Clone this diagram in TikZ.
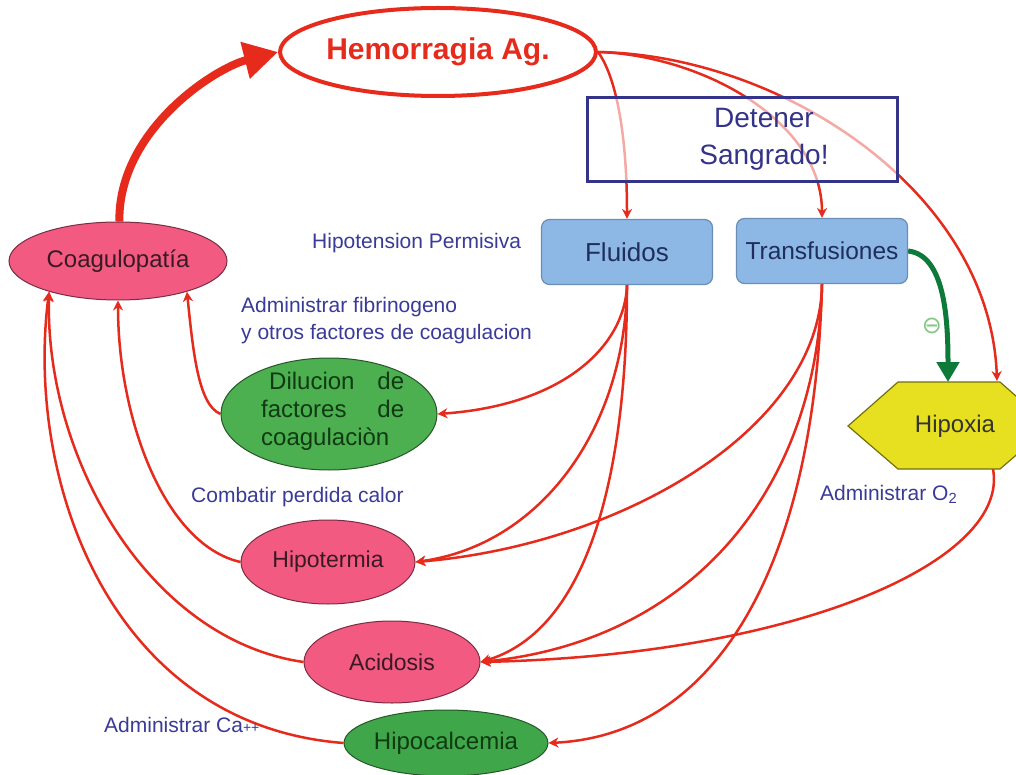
\documentclass[tikz,border=0pt]{standalone}
\usepackage{fontspec}
\setmainfont{Liberation Sans}
\newfontfamily\dejavu{DejaVu Sans}
\usetikzlibrary{shapes.geometric,arrows.meta,backgrounds}
\definecolor{rd}{HTML}{E62A1C}
\definecolor{pk}{HTML}{F25A82}
\definecolor{gr}{HTML}{4CAF50}
\definecolor{gr2}{HTML}{3FA64A}
\definecolor{bl}{HTML}{8DB8E6}
\definecolor{blb}{HTML}{6A8DB6}
\definecolor{yl}{HTML}{E6E020}
\definecolor{nv}{HTML}{3A3A98}
\definecolor{dnv}{HTML}{1F2E5C}
\definecolor{dg}{HTML}{0E7A3A}
\definecolor{bx}{HTML}{33338A}
\definecolor{pktext}{HTML}{3A1A22}
\definecolor{grtext}{HTML}{0F3A12}
\begin{document}
\begin{tikzpicture}[x=1pt,y=-1pt,
 ell/.style={ellipse, draw=black!55, line width=1pt, inner sep=0pt},
 pinkell/.style={ell, draw=black!50!pk, fill=pk, text=pktext},
 greenell/.style={ell, draw=black!50!gr, fill=gr, text=grtext},
 bluebox/.style={rectangle, rounded corners=8pt, draw=blb, line width=1.2pt, fill=bl, text=dnv, minimum width=171pt, minimum height=65pt, inner sep=0pt},
 lbl/.style={text=nv, inner sep=0pt, font=\fontsize{21}{27}\selectfont},
 rarrow/.style={draw=rd, line width=2.5pt, -{Stealth[length=10pt,width=10pt]}},
]
\useasboundingbox (0,0) rectangle (1016,775);

% nodes
\node[ellipse, draw=rd, line width=4pt, minimum width=302pt, minimum height=88pt, inner sep=0pt, text=rd, font=\bfseries\fontsize{30}{36}\selectfont] (hem) at (438,52) {Hemorragia Ag.};

\node[rectangle, draw=bx, line width=3pt, fill=white, fill opacity=0.6, minimum width=310pt, minimum height=84pt, inner sep=0pt] (det) at (742,140) {};
\node[text=bx, align=center, inner sep=0pt, font=\fontsize{28}{37}\selectfont] (dett) at (764,139) {Detener\\Sangrado!};

\node[bluebox, font=\fontsize{26}{30}\selectfont] (fl) at (627,252) {Fluidos};
\node[bluebox, font=\fontsize{24.5}{30}\selectfont] (tr) at (822,251) {Transfusiones};

\node[pinkell, minimum width=218pt, minimum height=78pt, font=\fontsize{24}{28}\selectfont] (co) at (118,261) {Coagulopatía};
\node[greenell, minimum width=216pt, minimum height=112pt] (dil) at (329,414) {};
\node[text=grtext, align=left, anchor=west, inner sep=0pt, font=\fontsize{24}{28}\selectfont] (dilt) at (261,411) {\makebox[143pt]{\hspace*{8pt}Dilucion\hfill de}\\\makebox[143pt]{factores\hfill de}\\coagulaciòn};
\node[pinkell, minimum width=174pt, minimum height=84pt, font=\fontsize{23}{28}\selectfont] (hipt) at (328,562) {Hipotermia};
\node[pinkell, minimum width=176pt, minimum height=82pt, font=\fontsize{23}{28}\selectfont] (aci) at (392,662) {Acidosis};
\node[greenell, fill=gr2, minimum width=204pt, minimum height=66pt, font=\fontsize{24}{28}\selectfont] (hca) at (446,743) {Hipocalcemia};

% Hipoxia shape
\begin{scope}
\clip (0,0) rectangle (1016,775);
\filldraw[fill=yl, draw=black!50!yl, line width=1.2pt] (848,426) -- (898,382) -- (1000,382) -- (1050,426) -- (1000,469) -- (898,469) -- cycle;
\end{scope}
\node[text=black!80, inner sep=0pt, font=\fontsize{24}{28}\selectfont] (hx) at (955,426) {Hipoxia};
\coordinate (hxtop) at (948,382);
\coordinate (hxtr) at (997,381);
\coordinate (hxbr) at (993,469);

% labels
\node[lbl, anchor=west] (lhp) at (312,243) {Hipotension Permisiva};
\node[lbl, anchor=west, align=left] (lfib) at (241,321) {Administrar fibrinogeno\\y otros factores de coagulacion};
\node[lbl, anchor=west] (lcal) at (191,497) {Combatir perdida calor};
\node[lbl, anchor=west] (lo2) at (820,494) {Administrar O\textsubscript{2}};
\node[lbl, anchor=west] (lca) at (104,725) {Administrar Ca{\fontsize{14}{14}\selectfont ++}};
\node[text=gr!70!white, inner sep=0pt, font=\dejavu\fontsize{24}{24}\selectfont] (minus) at (932,326) {⊖};

% connectors
\begin{pgfonlayer}{background}
\fill[white] (0,0) rectangle (1016,775);
\draw[draw=rd, line width=8pt, -{Triangle[length=34pt,width=36pt]}] (co.88) .. controls (118,130) and (215,68) .. (hem.west);

\draw[rarrow] (hem.east) .. controls (615,75) and (627,130) .. (fl.north);
\draw[rarrow] (hem.east) .. controls (700,55) and (822,120) .. (tr.north);
\draw[rarrow] (hem.east) .. controls (780,55) and (990,190) .. (hxtr);

\draw[rarrow] (fl.south) .. controls (625,345) and (565,405) .. (dil.east);
\draw[rarrow] (fl.south) .. controls (625,430) and (540,545) .. (hipt.east);
\draw[rarrow] (fl.south) .. controls (627,470) and (590,630) .. (aci.east);

\draw[rarrow] (tr.south) .. controls (820,430) and (620,545) .. (hipt.east);
\draw[rarrow] (tr.south) .. controls (818,480) and (700,640) .. (aci.east);
\draw[rarrow] (tr.south) .. controls (815,560) and (720,735) .. (hca.east);

\draw[rarrow] (hxbr) .. controls (1010,560) and (800,655) .. (aci.east);

\draw[rarrow] (dil.west) .. controls (198,405) and (193,350) .. (co.336);
\draw[rarrow] (hipt.west) .. controls (165,545) and (118,420) .. (co.south);
\draw[rarrow] (aci.west) .. controls (150,640) and (45,460) .. (co.204);
\draw[rarrow] (hca.west) .. controls (110,725) and (25,480) .. (co.204);

\draw[dg, line width=5pt, -{Triangle[length=20pt,width=22pt]}] (tr.east) .. controls (945,255) and (948,320) .. (hxtop);
\end{pgfonlayer}
\end{tikzpicture}
\end{document}
